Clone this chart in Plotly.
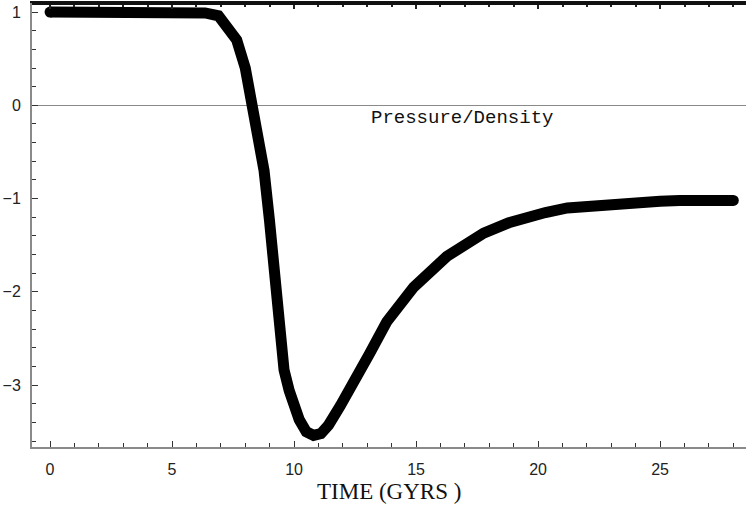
import plotly.graph_objects as go

# Data
time_gyrs = [0, 1, 2, 3, 4, 5, 6, 6.35, 6.9, 7.24, 7.45, 7.65, 8.0, 8.27, 8.41, 8.77,
             8.99, 9.17, 9.36, 9.59, 9.8, 9.94, 10.21, 10.5, 10.8, 11.1, 11.41, 11.9,
             12.44, 13.1, 13.8, 14.9, 16.26, 17.77, 18.8, 19.82, 20.3, 21.2,
             22.5, 23.9, 25.0, 25.8, 28.0]
pressure_density = [1.0, 1.0, 1.0, 1.0, 1.0, 1.0, 1.0, 0.99, 0.96, 0.86, 0.79, 0.70,
                    0.40, 0.056, -0.159, -0.70, -1.23, -1.77, -2.30, -2.84, -3.06,
                    -3.19, -3.37, -3.50, -3.54, -3.52, -3.43, -3.22, -2.99, -2.66,
                    -2.32, -1.95, -1.62, -1.37, -1.26, -1.17, -1.15, -1.10, -1.07,
                    -1.03, -1.03, -1.02, -1.02]
x_ticks = [0, 5, 10, 15, 20, 25]
y_ticks = [-3, -2, -1, 0, 1]
curve_label = "Pressure/Density"
x_title = "TIME (GYRS )"

AX_GREY = "#8a8a8a"
TICK_FONT = dict(family="Liberation Sans, Arial, sans-serif", size=16, color="#222222")

fig = go.Figure()
fig.add_trace(go.Scatter(
    x=time_gyrs, y=pressure_density, mode="lines",
    line=dict(color="black", width=11),
    hoverinfo="skip", showlegend=False))
# round caps at the ends of the curve
fig.add_trace(go.Scatter(
    x=[time_gyrs[0], time_gyrs[-1]], y=[pressure_density[0], pressure_density[-1]],
    mode="markers", marker=dict(color="black", size=11),
    hoverinfo="skip", showlegend=False))
# invisible trace to activate the top axis
fig.add_trace(go.Scatter(x=[time_gyrs[0]], y=[pressure_density[0]], xaxis="x2",
                         mode="markers", marker=dict(opacity=0),
                         hoverinfo="skip", showlegend=False))

fig.add_annotation(x=16.9, y=-0.14, text=curve_label, showarrow=False,
                   xanchor="center", yanchor="middle",
                   font=dict(family="Liberation Mono, Courier New, monospace",
                             size=19, color="#111111"))
fig.add_annotation(x=0.5, y=-0.101, xref="paper", yref="paper", text=x_title,
                   showarrow=False, xanchor="center", yanchor="middle",
                   font=dict(family="Liberation Serif, Times New Roman, serif",
                             size=23, color="#111111"))
# dark top frame line
fig.add_shape(type="line", xref="paper", yref="paper", x0=0, x1=1, y0=0.9985, y1=0.9985,
              line=dict(color="#111111", width=2.5), layer="above")

xrange = [-0.74, 28.52]
fig.update_layout(
    width=746, height=508,
    margin=dict(l=32, r=0, t=3, b=61),
    paper_bgcolor="white", plot_bgcolor="white",
    xaxis=dict(range=xrange, tickvals=x_ticks, ticks="inside", ticklen=6,
               tickcolor="#333333", tickwidth=1,
               showline=True, linecolor=AX_GREY, linewidth=2,
               showgrid=False, zeroline=False, tickfont=TICK_FONT,
               ticklabelstandoff=7,
               minor=dict(dtick=1, ticks="inside", ticklen=4, tickcolor="#333333",
                          showgrid=False)),
    xaxis2=dict(range=xrange, overlaying="x", side="top", tickvals=x_ticks,
                ticks="inside", ticklen=6, tickcolor="#222222", tickwidth=1.5,
                showline=True, linecolor="#111111", linewidth=2,
                showticklabels=False, showgrid=False, zeroline=False,
                minor=dict(dtick=1, ticks="inside", ticklen=4, tickcolor="#222222",
                           showgrid=False)),
    yaxis=dict(range=[-3.664, 1.097], tickvals=y_ticks, ticks="inside", ticklen=6,
               tickcolor="#333333", tickwidth=1,
               showline=True, linecolor=AX_GREY, linewidth=2,
               showgrid=False, zeroline=True, zerolinecolor=AX_GREY, zerolinewidth=1,
               tickfont=TICK_FONT, ticklabelstandoff=6,
               minor=dict(dtick=0.2, ticks="inside", ticklen=4, tickcolor="#333333",
                          showgrid=False)),
)

fig.write_html("out.html", config={"displayModeBar": False},
               post_script="document.body.style.margin='0';document.body.style.overflow='hidden';")
